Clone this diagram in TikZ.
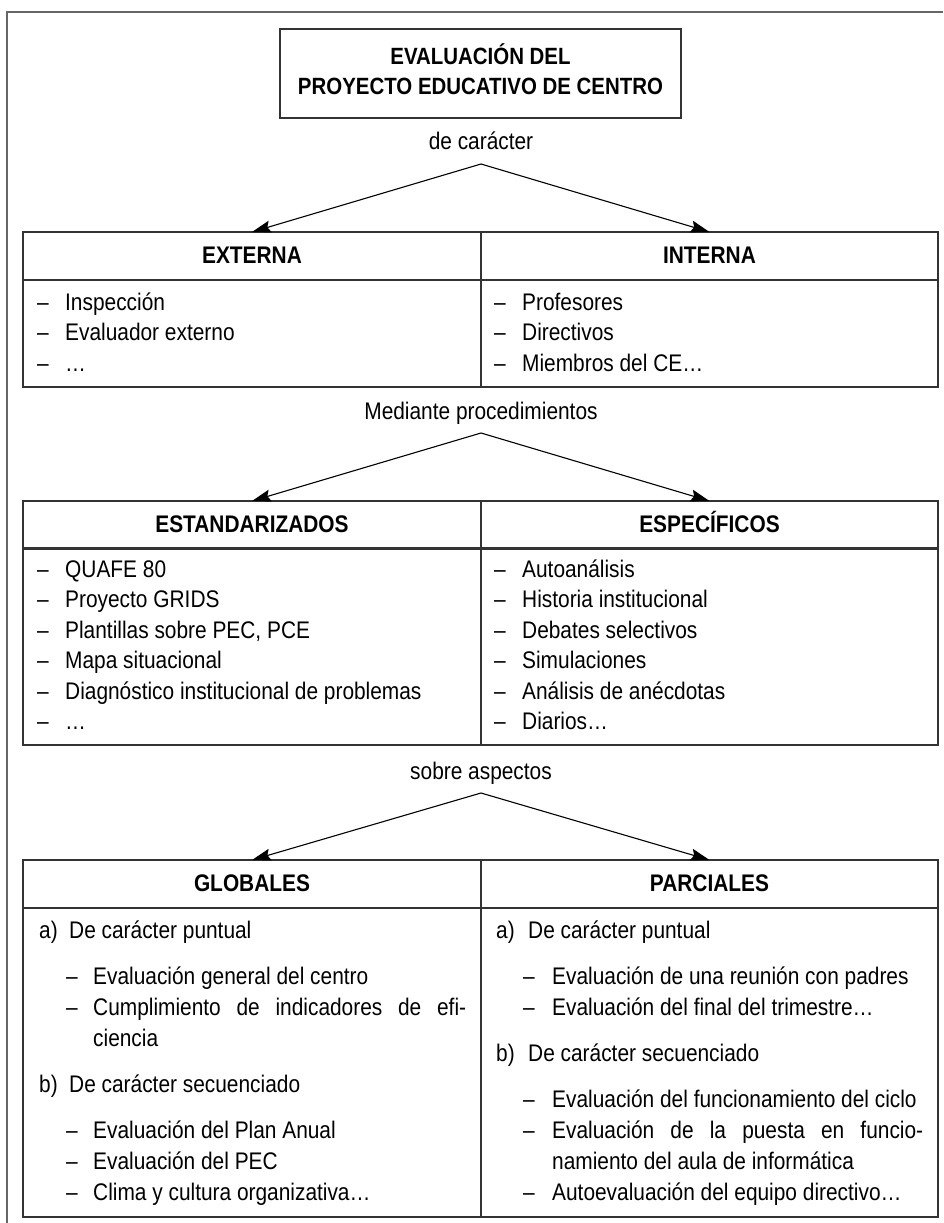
\documentclass[tikz,border=0pt]{standalone}
\usepackage{fontspec}
\setmainfont[FakeStretch=0.87]{Liberation Sans}
\usetikzlibrary{arrows.meta,calc}
\begin{document}
\begin{tikzpicture}[x=1pt,y=-1pt,
  frameline/.style={draw=black!60,line width=1.4pt},
  cellbox/.style={draw=black!80,line width=1.5pt,rectangle,inner sep=0pt,outer sep=0pt,anchor=north west},
  hcell/.style={cellbox,minimum height=48pt,font=\fontsize{24}{31}\selectfont\bfseries,text height=17pt,text depth=3pt},
  txt/.style={anchor=base west,inner sep=0pt,font=\fontsize{24}{31}\selectfont},
  lbl/.style={anchor=base,inner sep=0pt,font=\fontsize{24}{31}\selectfont},
  ttl/.style={anchor=base,inner sep=0pt,font=\fontsize{23.5}{31}\selectfont\bfseries},
  arr/.style={-{Stealth[length=19pt,width=12pt,inset=3pt]},line width=1.1pt,draw=black}]
\useasboundingbox (0,0) rectangle (943,1223);
% outer frame
\draw[frameline] (943,12) -- (7,12) -- (7,1223);
% title
\node[draw=black!80,line width=1.5pt,minimum width=401pt,minimum height=89pt,inner sep=0pt] (title) at (480.5,73.5) {};
\node[ttl] (title1) at (480.5,65) {EVALUACIÓN DEL};
\node[ttl] (title2) at (480.5,95) {PROYECTO EDUCATIVO DE CENTRO};
% ---------- table 1
\node[lbl] (l1) at (481,149) {de carácter};
\coordinate (a1) at (481,164);
\node[hcell,minimum width=458pt] (h1l) at (23,232) {EXTERNA};
\node[hcell,minimum width=457pt] (h1r) at (481,232) {INTERNA};
\node[cellbox,minimum width=458pt,minimum height=107pt] (b1l) at (23,280) {};
\node[cellbox,minimum width=457pt,minimum height=107pt] (b1r) at (481,280) {};
\draw[arr] (a1) -- (h1l.north);
\draw[arr] (a1) -- (h1r.north);
\foreach \y/\t [count=\i] in {310/Inspección,340.5/Evaluador externo,371/…}
  \node[txt] (e\i) at (37,\y) {\makebox[28pt][l]{–}\t};
\foreach \y/\t [count=\i] in {310/Profesores,340.5/Directivos,371/Miembros del CE…}
  \node[txt] (n\i) at (494,\y) {\makebox[28pt][l]{–}\t};
% ---------- table 2
\node[lbl] (l2) at (481,419) {Mediante procedimientos};
\coordinate (a2) at (481,433);
\node[hcell,minimum width=458pt] (h2l) at (23,501) {ESTANDARIZADOS};
\node[hcell,minimum width=457pt] (h2r) at (481,501) {ESPECÍFICOS};
\node[cellbox,minimum width=458pt,minimum height=197pt] (b2l) at (23,548) {};
\node[cellbox,minimum width=457pt,minimum height=197pt] (b2r) at (481,548) {};
\draw[arr] (a2) -- (h2l.north);
\draw[arr] (a2) -- (h2r.north);
\foreach \y/\t [count=\i] in {577/QUAFE 80,607.5/Proyecto GRIDS,638/{Plantillas sobre PEC, PCE},668.5/Mapa situacional,699/Diagnóstico institucional de problemas,729.5/…}
  \node[txt] (s\i) at (37,\y) {\makebox[28pt][l]{–}\t};
\foreach \y/\t [count=\i] in {577/Autoanálisis,607.5/Historia institucional,638/Debates selectivos,668.5/Simulaciones,699/Análisis de anécdotas,729.5/Diarios…}
  \node[txt] (p\i) at (494,\y) {\makebox[28pt][l]{–}\t};
% ---------- table 3
\node[lbl] (l3) at (481,779) {sobre aspectos};
\coordinate (a3) at (481,793);
\node[hcell,minimum width=458pt] (h3l) at (23,860) {GLOBALES};
\node[hcell,minimum width=457pt] (h3r) at (481,860) {PARCIALES};
\node[cellbox,minimum width=458pt,minimum height=309pt] (b3l) at (23,908) {};
\node[cellbox,minimum width=457pt,minimum height=309pt] (b3r) at (481,908) {};
\draw[arr] (a3) -- (h3l.north);
\draw[arr] (a3) -- (h3r.north);
% left column
\node[txt] (g1) at (39,938) {\makebox[30pt][l]{a)}De carácter puntual};
\node[txt] (g2) at (66,984) {\makebox[27pt][l]{–}Evaluación general del centro};
\node[txt] (g3) at (66,1015) {\makebox[27pt][l]{–}\makebox[373pt][s]{Cumplimiento de indicadores de efi-}};
\node[txt] (g4) at (93,1046) {ciencia};
\node[txt] (g5) at (39,1092) {\makebox[30pt][l]{b)}De carácter secuenciado};
\node[txt] (g6) at (66,1138) {\makebox[27pt][l]{–}Evaluación del Plan Anual};
\node[txt] (g7) at (66,1169) {\makebox[27pt][l]{–}Evaluación del PEC};
\node[txt] (g8) at (66,1200) {\makebox[27pt][l]{–}Clima y cultura organizativa…};
% right column
\node[txt] (r1) at (496,938) {\makebox[32pt][l]{a)}De carácter puntual};
\node[txt] (r2) at (523,984) {\makebox[29pt][l]{–}Evaluación de una reunión con padres};
\node[txt] (r3) at (523,1015) {\makebox[29pt][l]{–}Evaluación del final del trimestre…};
\node[txt] (r4) at (496,1061) {\makebox[32pt][l]{b)}De carácter secuenciado};
\node[txt] (r5) at (523,1107) {\makebox[29pt][l]{–}Evaluación del funcionamiento del ciclo};
\node[txt] (r6) at (523,1138) {\makebox[29pt][l]{–}\makebox[371pt][s]{Evaluación de la puesta en funcio-}};
\node[txt] (r7) at (552,1169) {namiento del aula de informática};
\node[txt] (r8) at (523,1200) {\makebox[29pt][l]{–}Autoevaluación del equipo directivo…};
\end{tikzpicture}
\end{document}
